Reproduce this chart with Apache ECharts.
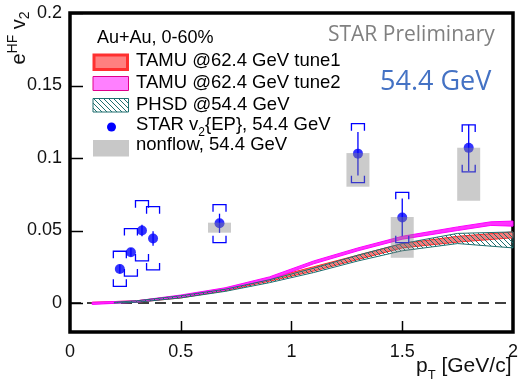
<!DOCTYPE html>
<html>
<head>
<meta charset="utf-8">
<script src="https://cdn.jsdelivr.net/npm/echarts@6/dist/echarts.min.js"></script>
<style>
  html, body { margin: 0; padding: 0; background: #fff; }
  #chart { width: 521px; height: 388px; }
</style>
</head>
<body>
<div id="chart"></div>
<script>
// STAR v2{EP} 54.4 GeV points
const starPt = [0.225, 0.275, 0.325, 0.375, 0.675, 1.3, 1.5, 1.8];
const starV2 = [0.0235, 0.035, 0.050, 0.0445, 0.055, 0.103, 0.059, 0.107];
const starStat = [0.003, 0.003, 0.004, 0.005, 0.0066, 0.015, 0.013, 0.016];
const starSysLow = [0.0115, 0.0186, 0.029, 0.0228, 0.0416, 0.083, 0.0416, 0.0905];
const starSysHigh = [0.0357, 0.0513, 0.0706, 0.0664, 0.0678, 0.1237, 0.0763, 0.1228];

// nonflow boxes
const nonflowPt = [0.675, 1.3, 1.5, 1.8];
const nonflowLow = [0.0485, 0.0802, 0.0312, 0.0706];
const nonflowHigh = [0.0554, 0.1034, 0.0593, 0.1071];

// model bands
const bandPt = [0.1, 0.3, 0.5, 0.7, 0.9, 1.1, 1.3, 1.5, 1.75, 2.0];
const tune1Low = [0, 0.0005, 0.0035, 0.0085, 0.015, 0.022, 0.030, 0.038, 0.042, 0.045];
const tune1High = [0.0005, 0.0015, 0.005, 0.010, 0.017, 0.025, 0.033, 0.041, 0.046, 0.049];
const phsdPt = [0.2, 0.3, 0.5, 0.7, 0.9, 1.1, 1.3, 1.5, 1.75, 2.0];
const phsdLow = [0, 0.0005, 0.0035, 0.008, 0.014, 0.021, 0.029, 0.036, 0.041, 0.038];
const phsdHigh = [0.0005, 0.0015, 0.005, 0.0095, 0.016, 0.024, 0.033, 0.041, 0.048, 0.049];
const tune2Pt = [0.1, 0.3, 0.5, 0.7, 0.9, 1.1, 1.3, 1.5, 1.75, 1.9, 2.0];
const tune2Low = [-0.001, 0.0005, 0.004, 0.009, 0.016, 0.027, 0.036, 0.044, 0.050, 0.0535, 0.053];
const tune2High = [0.0005, 0.0015, 0.0055, 0.0105, 0.018, 0.029, 0.038, 0.046, 0.0525, 0.056, 0.0565];

const xTicks = [0.5, 1, 1.5];
const yTicks = [0, 0.05, 0.1, 0.15, 0.2];

const FONT = '"Liberation Sans", Arial, sans-serif';
const OPEN = '"Open Sans", sans-serif';

// diagonal hatch for PHSD
function makeHatch() {
    const s = 5;
    const c = document.createElement('canvas');
    c.width = s; c.height = s;
    const ctx = c.getContext('2d');
    ctx.strokeStyle = '#1f6f6f';
    ctx.lineWidth = 1;
    ctx.beginPath();
    ctx.moveTo(-2, -2); ctx.lineTo(s + 2, s + 2);
    ctx.moveTo(s - 2, -2); ctx.lineTo(s + 2, 2);
    ctx.moveTo(-2, s - 2); ctx.lineTo(2, s + 2);
    ctx.stroke();
    return { image: c, repeat: 'repeat' };
}
const hatch = makeHatch();

function bandSeries(name, xs, lo, hi, fill, stroke, z) {
    return {
        type: 'custom',
        name: name,
        z: z,
        silent: true,
        data: xs.map((x, i) => [x, lo[i], hi[i]]),
        encode: { x: 0, y: [1, 2] },
        renderItem: function (params, api) {
            if (params.dataIndex !== 0) return null;
            const pts = [];
            for (let i = 0; i < xs.length; i++) pts.push(api.coord([xs[i], hi[i]]));
            for (let i = xs.length - 1; i >= 0; i--) pts.push(api.coord([xs[i], lo[i]]));
            return {
                type: 'polygon',
                shape: { points: pts },
                style: { fill: fill, stroke: stroke, lineWidth: 1 }
            };
        }
    };
}

const chart = echarts.init(document.getElementById('chart'));

const option = {
    animation: false,
    backgroundColor: '#fff',
    grid: {
        left: 70, right: 8, top: 13, bottom: 56,
        show: true, borderColor: '#000', borderWidth: 3.5, backgroundColor: 'transparent'
    },
    xAxis: {
        type: 'value', min: 0, max: 2, interval: 0.5,
        axisLine: { show: false, onZero: false },
        splitLine: { show: false },
        axisTick: { show: false },
        axisLabel: { margin: 11, fontSize: 18, fontFamily: FONT, color: '#111' }
    },
    yAxis: {
        type: 'value', min: -0.02, max: 0.2,
        axisLine: { show: false, onZero: false },
        splitLine: { show: false },
        axisTick: { show: false },
        axisLabel: { margin: 8, fontSize: 18, fontFamily: FONT, color: '#111',
            customValues: yTicks }
    },
    series: [
        {
            type: 'line', silent: true, z: 1, symbol: 'none',
            data: [[0, 0], [2, 0]],
            lineStyle: { color: '#000', width: 1.3, type: [11, 6] }
        },
        bandSeries('TAMU tune1', bandPt, tune1Low, tune1High, '#f47c7c', '#ff2a2a', 2),
        bandSeries('TAMU tune2', tune2Pt, tune2Low, tune2High, '#ff33ff', '#ff00ff', 3),
        bandSeries('PHSD', phsdPt, phsdLow, phsdHigh, hatch, '#1f6f6f', 4),
        {
            type: 'custom', name: 'STAR errors', z: 5, silent: true,
            data: starPt.map((x, i) => [x, starV2[i], starStat[i], starSysLow[i], starSysHigh[i]]),
            encode: { x: 0, y: [1, 3, 4] },
            renderItem: function (params, api) {
                const x = api.value(0), v = api.value(1), e = api.value(2);
                const p0 = api.coord([x, v - e]);
                const p1 = api.coord([x, v + e]);
                const lo = api.coord([x, api.value(3)]);
                const hi = api.coord([x, api.value(4)]);
                const w = 6.5, arm = 7;
                const st = { stroke: '#0000ff', lineWidth: 1.3, fill: 'none' };
                return {
                    type: 'group',
                    children: [
                        { type: 'line', shape: { x1: p0[0], y1: p0[1], x2: p1[0], y2: p1[1] }, style: st },
                        { type: 'polyline', shape: { points: [[hi[0] - w, hi[1] + arm], [hi[0] - w, hi[1]], [hi[0] + w, hi[1]], [hi[0] + w, hi[1] + arm]] }, style: st },
                        { type: 'polyline', shape: { points: [[lo[0] - w, lo[1] - arm], [lo[0] - w, lo[1]], [lo[0] + w, lo[1]], [lo[0] + w, lo[1] - arm]] }, style: st }
                    ]
                };
            }
        },
        {
            type: 'scatter', name: 'STAR v2{EP}', z: 6, silent: true,
            symbol: 'circle', symbolSize: 10,
            itemStyle: { color: '#0000ff' },
            data: starPt.map((x, i) => [x, starV2[i]])
        },
        {
            type: 'custom', name: 'nonflow', z: 7, silent: true,
            data: nonflowPt.map((x, i) => [x, nonflowLow[i], nonflowHigh[i]]),
            encode: { x: 0, y: [1, 2] },
            renderItem: function (params, api) {
                const top = api.coord([api.value(0), api.value(2)]);
                const bot = api.coord([api.value(0), api.value(1)]);
                const half = 11.5;
                return {
                    type: 'rect',
                    shape: { x: top[0] - half, y: top[1], width: half * 2, height: bot[1] - top[1] },
                    style: { fill: 'rgba(130,130,130,0.42)' }
                };
            }
        }
    ],
    graphic: [
        // y axis title
        {
            type: 'text', x: 19, y: 38, rotation: Math.PI / 2, z: 100,
            style: {
                text: 'e{sup|HF} v{sub|2}', fill: '#111', font: '20px ' + FONT,
                align: 'center', verticalAlign: 'middle',
                rich: {
                    sup: { fontSize: 14, fontFamily: FONT, verticalAlign: 'top', lineHeight: 26 },
                    sub: { fontSize: 14, fontFamily: FONT, verticalAlign: 'bottom', lineHeight: 26 }
                }
            }
        },
        // x axis title
        {
            type: 'text', x: 416, y: 366, z: 100,
            style: {
                text: 'p{sub|T} [GeV/c]', fill: '#111', font: '21px ' + FONT,
                align: 'left', verticalAlign: 'middle',
                rich: {
                    sub: { fontSize: 13, fontFamily: FONT, verticalAlign: 'bottom', lineHeight: 32 }
                }
            }
        },
        { type: 'text', x: 97, y: 38, z: 100,
          style: { text: 'Au+Au, 0-60%', fill: '#000', font: '18px ' + FONT, verticalAlign: 'middle' } },
        { type: 'text', x: 328, y: 35, z: 100,
          style: { text: 'STAR Preliminary', fill: '#808080', font: '21px ' + OPEN, verticalAlign: 'middle' } },
        { type: 'text', x: 380, y: 82, z: 100,
          style: { text: '54.4 GeV', fill: '#4472c4', font: '27px ' + OPEN, verticalAlign: 'middle' } },
        // legend swatches
        { type: 'rect', z: 100, shape: { x: 94, y: 55, width: 33.5, height: 14.5 },
          style: { fill: '#ff8080', stroke: '#ff3030', lineWidth: 3 } },
        { type: 'rect', z: 100, shape: { x: 93, y: 76.5, width: 35.5, height: 14 },
          style: { fill: '#ff80ff', stroke: '#e0008c', lineWidth: 1 } },
        { type: 'rect', z: 100, shape: { x: 93, y: 98.5, width: 35.5, height: 13.5 },
          style: { fill: hatch, stroke: '#1f6f6f', lineWidth: 1 } },
        { type: 'circle', z: 100, shape: { cx: 111.5, cy: 127, r: 4.5 },
          style: { fill: '#0000ff' } },
        { type: 'rect', z: 100, shape: { x: 93, y: 140, width: 36, height: 16.5 },
          style: { fill: '#c8c8c8' } },
        // legend labels
        { type: 'text', x: 136, y: 60.5, z: 100,
          style: { text: 'TAMU @62.4 GeV tune1', fill: '#000', font: '18.5px ' + FONT, verticalAlign: 'middle' } },
        { type: 'text', x: 136, y: 83, z: 100,
          style: { text: 'TAMU @62.4 GeV tune2', fill: '#000', font: '18.5px ' + FONT, verticalAlign: 'middle' } },
        { type: 'text', x: 136, y: 104.5, z: 100,
          style: { text: 'PHSD @54.4 GeV', fill: '#000', font: '18.5px ' + FONT, verticalAlign: 'middle' } },
        { type: 'text', x: 136, y: 125, z: 100,
          style: {
              text: 'STAR v{sub|2}{EP}, 54.4 GeV', fill: '#000', font: '18.5px ' + FONT, verticalAlign: 'middle',
              rich: { sub: { fontSize: 12, fontFamily: FONT, verticalAlign: 'bottom', lineHeight: 28 } }
          } },
        { type: 'text', x: 136, y: 145, z: 100,
          style: { text: 'nonflow, 54.4 GeV', fill: '#000', font: '18.5px ' + FONT, verticalAlign: 'middle' } }
    ]
};

chart.setOption(option);

// inward tick marks, placed with the chart's own axis scales
const tickStyle = { stroke: '#000', lineWidth: 1.5 };
yTicks.forEach(v => {
    const p = chart.convertToPixel({ gridIndex: 0 }, [0, v]);
    const y = Math.round(p[1]) + 0.5;
    option.graphic.push({ type: 'line', z: 110, shape: { x1: p[0], y1: y, x2: p[0] + 13, y2: y }, style: tickStyle });
});
xTicks.forEach(v => {
    const p = chart.convertToPixel({ gridIndex: 0 }, [v, -0.02]);
    const x = Math.round(p[0]) + 0.5;
    option.graphic.push({ type: 'line', z: 110, shape: { x1: x, y1: p[1], x2: x, y2: p[1] - 11 }, style: tickStyle });
});
chart.setOption(option, true);

window.addEventListener('resize', () => chart.resize());
</script>
</body>
</html>
